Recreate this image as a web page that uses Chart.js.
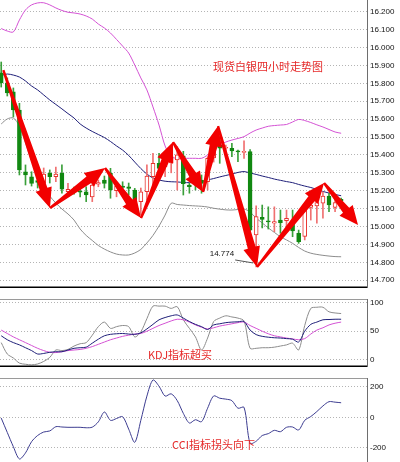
<!DOCTYPE html>
<html>
<head>
<meta charset="utf-8">
<script src="https://cdn.jsdelivr.net/npm/chart.js@4"></script>
<style>
  html, body { margin: 0; padding: 0; background: #fff; }
  #wrap { position: relative; width: 400px; height: 462px; overflow: hidden; }
  .pane { position: absolute; left: 0; width: 400px; }
  canvas { display: block; }
</style>
</head>
<body>
<div id="wrap">
  <div class="pane" style="top:0;height:288px"><canvas id="mainChart" width="400" height="288"></canvas></div>
  <div class="pane" style="top:299px;height:68px"><canvas id="kdjChart" width="400" height="68"></canvas></div>
  <div class="pane" style="top:378px;height:84px"><canvas id="cciChart" width="400" height="84"></canvas></div>
</div>
<script>
// 4h candles, silver spot
const open = [15.859, 15.802, 15.753, 15.651, 15.306, 15.278, 15.256, 15.241, 15.297, 15.278,
  15.297, 15.194, 15.200, 15.194, 15.194, 15.166, 15.236, 15.260, 15.297, 15.200,
  15.226, 15.222, 15.204, 15.139, 15.194, 15.278, 15.353, 15.334, 15.355, 15.372,
  15.395, 15.232, 15.260, 15.260, 15.250, 15.383, 15.455, 15.437, 15.437, 15.419,
  15.414, 15.418, 14.953, 15.051, 15.029, 15.018, 15.036, 15.032, 15.018, 14.962,
  14.945, 15.107, 15.115, 15.130, 15.170, 15.107, 15.152];
const close = [15.802, 15.746, 15.651, 15.316, 15.288, 15.241, 15.247, 15.293, 15.278, 15.293,
  15.208, 15.208, 15.196, 15.192, 15.176, 15.232, 15.245, 15.241, 15.204, 15.226,
  15.219, 15.213, 15.139, 15.194, 15.282, 15.353, 15.325, 15.372, 15.390, 15.400,
  15.240, 15.222, 15.241, 15.241, 15.381, 15.450, 15.437, 15.440, 15.422, 15.417,
  15.416, 14.980, 15.055, 15.040, 15.026, 15.028, 15.021, 15.046, 14.975, 14.915,
  15.098, 15.120, 15.133, 15.170, 15.120, 15.133, 15.144];
const high = [15.919, 15.830, 15.774, 15.688, 15.344, 15.306, 15.282, 15.327, 15.316, 15.332,
  15.344, 15.241, 15.220, 15.226, 15.222, 15.250, 15.260, 15.282, 15.325, 15.241,
  15.250, 15.243, 15.213, 15.215, 15.344, 15.409, 15.409, 15.418, 15.420, 15.446,
  15.420, 15.241, 15.282, 15.288, 15.390, 15.478, 15.483, 15.455, 15.465, 15.427,
  15.478, 15.430, 15.115, 15.120, 15.110, 15.110, 15.092, 15.092, 15.092, 14.980,
  15.102, 15.148, 15.176, 15.194, 15.186, 15.158, 15.159];
const low = [15.779, 15.729, 15.612, 15.288, 15.232, 15.226, 15.215, 15.194, 15.243, 15.250,
  15.186, 15.167, 15.180, 15.165, 15.139, 15.139, 15.222, 15.215, 15.158, 15.166,
  15.186, 15.176, 15.120, 15.064, 15.148, 15.213, 15.278, 15.278, 15.300, 15.204,
  15.176, 15.186, 15.204, 15.186, 15.204, 15.360, 15.353, 15.418, 15.390, 15.362,
  15.381, 14.950, 14.774, 14.992, 14.986, 14.971, 14.962, 15.000, 14.943, 14.906,
  14.925, 15.036, 15.018, 15.046, 15.083, 15.083, 15.131];

// Bollinger bands
const bandUpper = [16.106, 16.092, 16.087, 16.154, 16.210, 16.238, 16.249, 16.250, 16.238, 16.221,
  16.207, 16.197, 16.193, 16.187, 16.176, 16.159, 16.131, 16.109, 16.081, 16.045,
  16.008, 15.969, 15.902, 15.830, 15.763, 15.668, 15.567, 15.450, 15.390, 15.381,
  15.381, 15.381, 15.381, 15.381, 15.400, 15.433, 15.455, 15.472, 15.483, 15.492,
  15.502, 15.522, 15.539, 15.550, 15.560, 15.564, 15.567, 15.570, 15.584, 15.598,
  15.592, 15.581, 15.568, 15.556, 15.542, 15.528, 15.521];
const bandMid = [15.844, 15.852, 15.846, 15.835, 15.813, 15.785, 15.763, 15.735, 15.707, 15.682,
  15.657, 15.631, 15.606, 15.573, 15.550, 15.531, 15.514, 15.497, 15.475, 15.450,
  15.427, 15.397, 15.360, 15.324, 15.293, 15.271, 15.260, 15.253, 15.250, 15.249,
  15.246, 15.245, 15.249, 15.251, 15.260, 15.268, 15.277, 15.285, 15.293, 15.302,
  15.307, 15.299, 15.291, 15.282, 15.274, 15.265, 15.258, 15.251, 15.245, 15.235,
  15.226, 15.218, 15.207, 15.196, 15.187, 15.179, 15.172];
const bandLower = [15.573, 15.601, 15.606, 15.561, 15.467, 15.366, 15.282, 15.221, 15.170, 15.131,
  15.098, 15.070, 15.036, 14.986, 14.950, 14.922, 14.894, 14.874, 14.858, 14.846,
  14.841, 14.841, 14.852, 14.872, 14.908, 14.950, 15.003, 15.064, 15.130, 15.123,
  15.120, 15.117, 15.115, 15.113, 15.109, 15.102, 15.097, 15.093, 15.092, 15.095,
  15.098, 15.081, 15.047, 15.020, 14.992, 14.967, 14.943, 14.925, 14.906, 14.883,
  14.863, 14.851, 14.844, 14.839, 14.835, 14.832, 14.831];

// KDJ
const kdjK = [42, 35, 30, 26, 21, 16, 10, 11, 13, 14, 14, 17, 20, 21, 22, 29, 36, 42, 44.5, 45.5,
  46, 45, 44.5, 47, 54, 62, 70, 74, 77, 78.5, 73, 67, 62, 58, 53, 61, 63, 65, 66, 66.5,
  67, 52, 44, 41, 39.5, 38.5, 38, 37, 36, 31, 50, 62, 66, 70, 70.5, 71, 71];
const kdjD = [52, 46, 40, 35, 30, 25, 20, 16, 13, 12.5, 14, 16, 17, 18, 20, 23, 27, 31, 35, 38,
  41, 43, 45, 46, 50, 55, 60, 64, 68, 71, 70, 66, 61, 57, 54, 56, 59, 61, 63, 65,
  66, 60, 55, 50, 45.5, 42, 40, 38, 36.5, 35, 37, 45, 52, 56, 61, 64, 66];
const kdjJ = [30, 10, 3, -6, -8, -9, -7.5, -3, 4, 17, 16, 18, 24, 28, 30, 43, 58, 66, 55, 58,
  60, 58, 40, 49, 72, 94, 94, 94, 90, 93, 70, 55, 40, 17, 38, 67, 73, 77, 75, 73,
  68, 20, 20, 21, 21, 22, 24, 26, 29, 17, 60, 90, 92, 92, 84, 82, 81];

// CCI
const cci = [-5, -100, -194, -275, -235, -161, -120, -97, -90, -62, -64, -66, -66, -66, -69, -65, -30, 35, -20, -8,
  4, -78, -165, -20, 140, 246, 205, 140, 155, 110, 26, -38, -16, -29, 60, 141, 126, 120, 110, 60,
  66, -172, -158, -120, -108, -86, -95, -66, -64, -84, -20, 5, 38, 75, 103, 100, 96];

// hand drawn arrows (candle index, price)
const arrowIdx = [0.35, 8.04, 17.1, 23.03, 28.3, 33.25, 35.72, 42.14, 53.18, 58.78];
const arrowPrice = [15.874, 15.103, 15.327, 15.047, 15.472, 15.193, 15.561, 14.774, 15.243, 15.008];
const lowIdx = 42;

const priceTicks = [14.7, 14.8, 14.9, 15.0, 15.1, 15.2, 15.3, 15.4, 15.5, 15.6, 15.7, 15.8, 15.9, 16.0, 16.1, 16.2];
const kdjTicks = [0, 50, 100];
const cciTicks = [-200, 0, 200];

const xMin = -0.2;
const xMax = 60.26;
const RED = '#e62a2a';
const UP = '#e8302c';
const DOWN = '#118811';

function pts(arr) {
  return arr.map((v, i) => ({ x: i, y: v }));
}

function xAxis() {
  return { type: 'linear', min: xMin, max: xMax, display: false, offset: false };
}

function yAxis(min, max, values, fmt) {
  return {
    position: 'right',
    min: min,
    max: max,
    afterBuildTicks: (scale) => { scale.ticks = values.map((v) => ({ value: v })); },
    afterFit: (scale) => { scale.width = 33; scale.paddingTop = 0; scale.paddingBottom = 0; },
    grid: { color: '#b4b4b4', drawTicks: false },
    border: { color: '#6e6e6e', dash: [1, 2] },
    ticks: { color: '#111', padding: 3, font: { family: 'Liberation Sans', size: 8 }, callback: fmt }
  };
}

function lineSet(arr, color, order) {
  return {
    type: 'line', data: pts(arr), borderColor: color, borderWidth: 1,
    pointRadius: 0, tension: 0.3, order: order
  };
}

function drawArrow(ctx, x1, y1, x2, y2) {
  const dx = x2 - x1;
  const dy = y2 - y1;
  const len = Math.hypot(dx, dy);
  const ux = dx / len, uy = dy / len;
  const nx = -uy, ny = ux;
  const head = Math.min(20, len * 0.35);
  const bx = x2 - ux * head, by = y2 - uy * head;
  const w0 = 1.2, w1 = 4, wh = 8.5;
  ctx.beginPath();
  ctx.moveTo(x1 + nx * w0, y1 + ny * w0);
  ctx.lineTo(bx + nx * w1, by + ny * w1);
  ctx.lineTo(bx + nx * wh, by + ny * wh);
  ctx.lineTo(x2, y2);
  ctx.lineTo(bx - nx * wh, by - ny * wh);
  ctx.lineTo(bx - nx * w1, by - ny * w1);
  ctx.lineTo(x1 - nx * w0, y1 - ny * w0);
  ctx.closePath();
  ctx.fill();
}

// panel borders and red caption
function panelDecor(id, opts) {
  return {
    id: id,
    afterDraw(chart) {
      const { ctx, chartArea: a } = chart;
      ctx.save();
      if (opts.top) {
        ctx.strokeStyle = '#9a9a9a';
        ctx.lineWidth = 1;
        ctx.beginPath();
        ctx.moveTo(0, a.top + 0.5);
        ctx.lineTo(a.right, a.top + 0.5);
        ctx.stroke();
      }
      if (opts.bottom) {
        ctx.strokeStyle = '#000';
        ctx.lineWidth = 1.5;
        ctx.beginPath();
        ctx.moveTo(0, a.bottom - 0.75);
        ctx.lineTo(a.right, a.bottom - 0.75);
        ctx.stroke();
      }
      ctx.fillStyle = RED;
      ctx.font = '11px "Noto Sans CJK SC"';
      ctx.textBaseline = 'middle';
      ctx.textAlign = 'left';
      ctx.fillText(opts.text, opts.tx, opts.ty);
      ctx.restore();
    }
  };
}

const arrowPlugin = {
  id: 'arrows',
  afterDatasetsDraw(chart) {
    const { ctx, scales: { x, y } } = chart;
    ctx.save();
    ctx.fillStyle = '#f20000';
    for (let k = 0; k < arrowIdx.length - 1; k++) {
      drawArrow(ctx,
        x.getPixelForValue(arrowIdx[k]), y.getPixelForValue(arrowPrice[k]),
        x.getPixelForValue(arrowIdx[k + 1]), y.getPixelForValue(arrowPrice[k + 1]));
    }
    // low marker
    const lx = x.getPixelForValue(lowIdx);
    const ly = y.getPixelForValue(low[lowIdx]);
    ctx.strokeStyle = '#555';
    ctx.lineWidth = 1;
    ctx.beginPath();
    ctx.moveTo(lx - 21, ly - 7);
    ctx.lineTo(lx - 3, ly - 4);
    ctx.stroke();
    ctx.fillStyle = '#111';
    ctx.font = '8px "Liberation Sans"';
    ctx.textAlign = 'right';
    ctx.textBaseline = 'middle';
    ctx.fillText(low[lowIdx].toFixed(3), lx - 22, ly - 13);
    ctx.restore();
  }
};

function mainEvent() {
  const isUp = open.map((o, i) => close[i] >= o);
  const bodyData = open.map((o, i) => ({ x: i, y: [o, close[i]] }));
  const wickData = open.map((o, i) => ({ x: i, y: [low[i], high[i]] }));

  const baseOpts = {
    responsive: false,
    animation: false,
    events: [],
    plugins: { legend: { display: false }, tooltip: { enabled: false } }
  };

  new Chart(document.querySelector('#mainChart'), {
    type: 'bar',
    data: {
      datasets: [
        {
          data: bodyData,
          grouped: false,
          barThickness: 4,
          minBarLength: 1,
          borderWidth: 1,
          borderSkipped: false,
          backgroundColor: isUp.map((u) => (u ? '#ffffff' : DOWN)),
          borderColor: isUp.map((u) => (u ? UP : DOWN)),
          order: 1
        },
        {
          data: wickData,
          grouped: false,
          barThickness: 1,
          borderWidth: 0,
          backgroundColor: isUp.map((u) => (u ? '#f07070' : '#3aa03a')),
          order: 2
        },
        lineSet(bandUpper, '#d452d4', 3),
        lineSet(bandMid, '#1e1e78', 3),
        lineSet(bandLower, '#8c8c8c', 3)
      ]
    },
    options: Object.assign({}, baseOpts, {
      scales: { x: xAxis(), y: yAxis(14.6565, 16.2654, priceTicks, (v) => v.toFixed(3)) }
    }),
    plugins: [arrowPlugin, panelDecor('mainDecor', { bottom: true, text: '现货白银四小时走势图', tx: 213, ty: 67 })]
  });

  new Chart(document.querySelector('#kdjChart'), {
    type: 'line',
    data: {
      datasets: [
        lineSet(kdjJ, '#8c8c8c', 3),
        lineSet(kdjD, '#d452d4', 2),
        lineSet(kdjK, '#1e1e78', 1)
      ]
    },
    options: Object.assign({}, baseOpts, {
      scales: { x: xAxis(), y: yAxis(-12.8, 106.5, kdjTicks, (v) => String(v)) }
    }),
    plugins: [panelDecor('kdjDecor', { top: true, bottom: true, text: 'KDJ指标超买', tx: 148, ty: 56 })]
  });

  new Chart(document.querySelector('#cciChart'), {
    type: 'line',
    data: {
      datasets: [lineSet(cci, '#3c3c90', 1)]
    },
    options: Object.assign({}, baseOpts, {
      scales: { x: xAxis(), y: yAxis(-295, 259.4, cciTicks, (v) => String(v)) }
    }),
    plugins: [panelDecor('cciDecor', { top: true, text: 'CCI指标拐头向下', tx: 172, ty: 67 })]
  });
}

document.addEventListener('DOMContentLoaded', () => mainEvent());
</script>
</body>
</html>
